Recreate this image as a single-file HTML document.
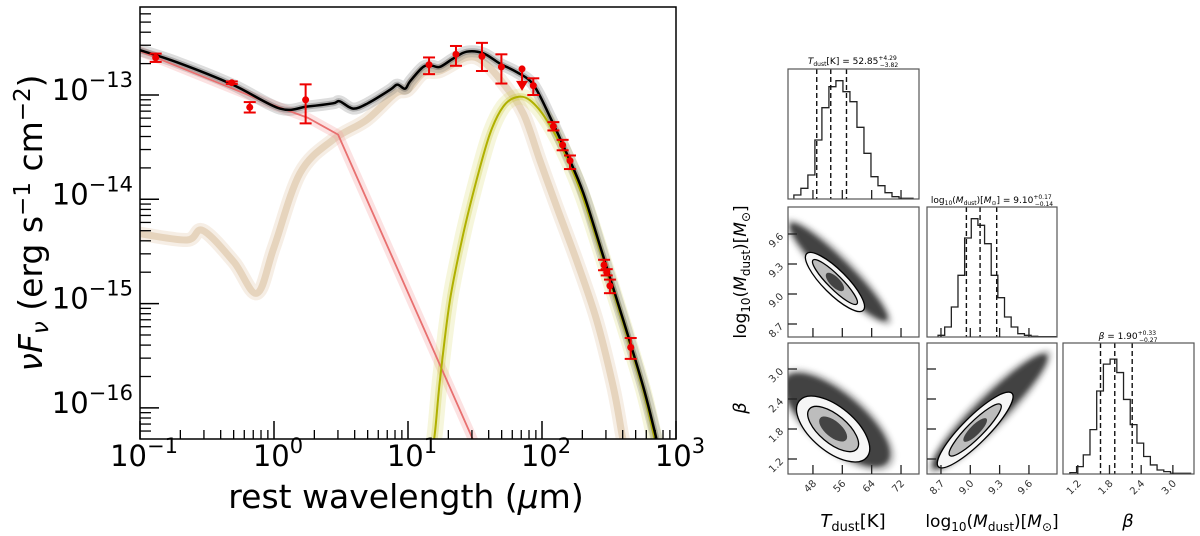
<!DOCTYPE html>
<html><head><meta charset="utf-8"><style>
html,body{margin:0;padding:0;background:#fff;}
svg{display:block;font-family:"DejaVu Sans","Liberation Sans",sans-serif;}
</style></head><body>
<svg id="fig" width="1200" height="536" viewBox="0 0 1200 536" xmlns="http://www.w3.org/2000/svg">
<defs>
<clipPath id="clipL"><rect x="140" y="7" width="536" height="432"/></clipPath>
<filter id="blur3" x="-30%" y="-30%" width="160%" height="160%"><feGaussianBlur stdDeviation="2.5"/></filter>
</defs>
<g id="sed"></g>
<g id="corner"></g>
</svg>
<script>
// ---------- SED data (log10 wavelength [um], log10 nuFnu) ----------
const totalLw = [-1.0,-0.716,-0.31,0.045,0.25,0.44,0.49,0.59,0.70,0.866,0.92,0.978,1.015,1.114,1.18,1.239,1.338,1.438,1.562,1.687,1.811,1.935,2.06,2.184,2.308,2.458,2.607,2.756,2.843,2.87];
const totalLf = [-12.57,-12.69,-12.90,-13.13,-13.11,-13.08,-13.06,-13.13,-13.08,-12.95,-12.90,-12.94,-12.87,-12.73,-12.72,-12.73,-12.65,-12.585,-12.60,-12.70,-12.78,-12.90,-13.21,-13.56,-13.94,-14.55,-15.16,-15.80,-16.24,-16.40];
const stellarLw = [-1.0,0.0,0.254,0.478,1.463,1.6];
const stellarLf = [-12.58,-13.10,-13.22,-13.38,-16.24,-16.64];
const agnLw = [-1.0,-0.65,-0.53,-0.3,-0.127,0.0,0.194,0.44,0.69,0.9,1.0,1.114,1.239,1.438,1.562,1.711,1.861,1.985,2.109,2.259,2.408,2.532,2.595,2.62];
const agnLf = [-14.33,-14.39,-14.30,-14.60,-14.90,-14.46,-13.75,-13.43,-13.24,-12.99,-12.95,-12.79,-12.77,-12.64,-12.68,-12.89,-13.18,-13.63,-14.07,-14.59,-15.16,-15.80,-16.24,-16.40];
const coldLw = [1.17,1.201,1.239,1.313,1.413,1.513,1.612,1.711,1.811,1.910,2.035,2.184,2.308,2.458,2.607,2.756,2.831,2.86];
const coldLf = [-16.5,-16.24,-15.73,-14.97,-14.33,-13.81,-13.37,-13.11,-13.02,-13.05,-13.24,-13.60,-13.99,-14.58,-15.19,-15.83,-16.24,-16.40];
const obsLw = [-0.883,-0.315,-0.181,0.236,1.157,1.358,1.552,1.697,1.935,2.085,2.154,2.209,2.463,2.483,2.507,2.662];
const obsLf = [-12.643,-12.882,-13.118,-13.046,-12.71,-12.61,-12.63,-12.73,-12.91,-13.30,-13.48,-13.63,-14.63,-14.70,-14.83,-15.42];
const obsErrLo = [0.04,0.012,0.05,0.226,0.09,0.11,0.14,0.16,0.09,0.04,0.05,0.08,0.05,0.03,0.07,0.11];
const obsErrHi = [0.04,0.012,0.05,0.148,0.07,0.08,0.13,0.12,0.07,0.04,0.05,0.05,0.05,0.03,0.06,0.09];
const limitLw = [1.851];
const limitLf = [-12.75];
const xTickExp = [-1,0,1,2,3];
const yTickExp = [-13,-14,-15,-16];

const NS = "http://www.w3.org/2000/svg";
function mk(tag, attrs, parent){const e=document.createElementNS(NS,tag);for(const k in attrs)e.setAttribute(k,attrs[k]);if(parent)parent.appendChild(e);return e;}
const sx = lw => 140 + (lw + 1) * 134;
const sy = lf => 95 - (lf + 13) * 104.3;

const sed = document.getElementById('sed');
const plotG = mk('g',{'clip-path':'url(#clipL)'},sed);

function pathD(xs, ys){
  const P=xs.map((x,i)=>[sx(x),sy(ys[i])]);
  let d='M'+P[0][0].toFixed(1)+','+P[0][1].toFixed(1);
  for(let i=0;i<P.length-1;i++){
    const p0=P[i-1]||P[i],p1=P[i],p2=P[i+1],p3=P[i+2]||P[i+1];
    const c1=[p1[0]+(p2[0]-p0[0])/6,p1[1]+(p2[1]-p0[1])/6];
    const c2=[p2[0]-(p3[0]-p1[0])/6,p2[1]-(p3[1]-p1[1])/6];
    d+=` C${c1[0].toFixed(1)},${c1[1].toFixed(1)} ${c2[0].toFixed(1)},${c2[1].toFixed(1)} ${p2[0].toFixed(1)},${p2[1].toFixed(1)}`;
  }
  return d;
}
function linD(xs, ys){return xs.map((x,i)=>(i?'L':'M')+sx(x).toFixed(1)+','+sy(ys[i]).toFixed(1)).join(' ');}
function band(d, color, w, op, name){
  const p = mk('path',{d:d,fill:'none',stroke:color,'stroke-width':w,'stroke-opacity':op,'stroke-linejoin':'round','stroke-linecap':'round'},plotG);
  
  
}
function line(d, color, w, name){
  const p = mk('path',{d:d,fill:'none',stroke:color,'stroke-width':w,'stroke-linejoin':'round'},plotG);
  
  
}
const dAgn=pathD(agnLw,agnLf), dSt=linD(stellarLw,stellarLf), dCold=pathD(coldLw,coldLf), dTot=pathD(totalLw,totalLf);
band(dAgn, '#e0c8a8', 14, 0.3, 'agn-band');
band(dAgn, '#d2b48c', 7, 0.45, 'agn-band-core');
band(dSt, '#f4a0a0', 10, 0.3, 'stellar-band');
band(dCold, '#d8d860', 16, 0.22, 'cold-dust-band');
band(dCold, '#c8c830', 7, 0.3, 'cold-dust-band-core');
band(dTot, '#777', 12, 0.25, 'total-band');
band(dTot, '#444', 6, 0.3, 'total-band-core');
line(dSt, '#e87070', 1.8, 'stellar-line');
line(dCold, '#b0b000', 2, 'cold-dust-line');
line(dTot, '#000', 2.5, 'total-line');

for(let i=0;i<obsLw.length;i++){
  const x=sx(obsLw[i]), y=sy(obsLf[i]), y1=sy(obsLf[i]+obsErrHi[i]), y2=sy(obsLf[i]-obsErrLo[i]);
  const g=mk('g',{},plotG);
  
  
  mk('line',{x1:x,x2:x,y1:y1,y2:y2,stroke:'#e00','stroke-width':2},g);
  mk('line',{x1:x-6,x2:x+6,y1:y1,y2:y1,stroke:'#e00','stroke-width':2},g);
  mk('line',{x1:x-6,x2:x+6,y1:y2,y2:y2,stroke:'#e00','stroke-width':2},g);
  mk('circle',{cx:x,cy:y,r:3.5,fill:'#e00'},g);
}
for(let i=0;i<limitLw.length;i++){
  const x=sx(limitLw[i]), y=sy(limitLf[i]);
  const g=mk('g',{},plotG);
  
  
  mk('circle',{cx:x,cy:y,r:3.5,fill:'#e00'},g);
  mk('line',{x1:x,x2:x,y1:y,y2:y+14,stroke:'#e00','stroke-width':2},g);
  mk('path',{d:`M${x-6},${y+12} L${x+6},${y+12} L${x},${y+22} Z`,fill:'#e00'},g);
}
const fr=mk('rect',{x:140,y:7,width:536,height:432,fill:'none',stroke:'#000','stroke-width':1.5},sed);


for(let d=-1; d<3; d++){
  for(let m=2;m<10;m++){
    const x=sx(d+Math.log10(m));
    mk('line',{x1:x,x2:x,y1:439,y2:430,stroke:'#000','stroke-width':1.3},sed);
  }
}
xTickExp.forEach(e=>{
  const x=sx(e);
  mk('line',{x1:x,x2:x,y1:439,y2:421,stroke:'#000','stroke-width':1.5},sed);
  const t=mk('text',{x:x+4,y:466,'text-anchor':'middle','font-size':29,fill:'#000'},sed);
  
  
  t.innerHTML=`10<tspan dy="-13" font-size="21">${e<0?'\u2212':''}${Math.abs(e)}</tspan>`;
});
for(let d=-17; d<-12; d++){
  for(let m=2;m<10;m++){
    const y=sy(d+Math.log10(m));
    if(y<8||y>438) continue;
    mk('line',{x1:140,x2:151,y1:y,y2:y,stroke:'#000','stroke-width':1.3},sed);
  }
}
yTickExp.forEach(e=>{
  const y=sy(e);
  mk('line',{x1:140,x2:159,y1:y,y2:y,stroke:'#000','stroke-width':1.5},sed);
  const t=mk('text',{x:133,y:y+5,'text-anchor':'end','font-size':29,fill:'#000'},sed);
  
  
  t.innerHTML=`10<tspan dy="-13" font-size="21">\u2212${Math.abs(e)}</tspan>`;
});
{
  const t=mk('text',{x:406,y:508,'text-anchor':'middle','font-size':33,fill:'#000'},sed);
  
  
  t.innerHTML='rest wavelength (<tspan font-style="italic">μ</tspan>m)';
  const y=mk('text',{x:0,y:0,'text-anchor':'middle','font-size':33,fill:'#000',transform:'translate(42,223) rotate(-90)'},sed);
  
  
  y.innerHTML='<tspan font-style="italic">νF</tspan><tspan font-style="italic" font-size="23" dy="6">ν</tspan><tspan dy="-6"> (erg s</tspan><tspan font-size="23" dy="-12">\u22121</tspan><tspan dy="12"> cm</tspan><tspan font-size="23" dy="-12">\u22122</tspan><tspan dy="12">)</tspan>';
}

// ---------- Corner plot data ----------
const tStart = 42.8, tWidth = 1.91;
const tCounts = [12,32,72,177,274,337,355,322,292,215,137,67,40,19,7,2,2];
const mStart = 8.67, mWidth = 0.068;
const mCounts = [5,30,90,185,297,355,335,280,185,118,60,30,10,5,2,1,1,1];
const bStart = 1.05, bWidth = 0.127;
const bCounts = [4,22,57,132,247,327,342,302,222,147,92,52,27,12,7,2,2,2];
const tQuant = [49.03,52.85,57.14];
const mQuant = [8.96,9.10,9.27];
const bQuant = [1.63,1.90,2.23];
const tTicks = [48,56,64,72];
const mTicks = [8.7,9.0,9.3,9.6];
const bTicks = [1.2,1.8,2.4,3.0];
const tmCenter = [54.0,9.12], tmCloud = [55.0,9.22];
const tbCenter = [53.5,1.80], tbCloud = [54.5,1.98];
const mbCenter = [9.05,1.78], mbCloud = [9.20,2.15];

const cols=[[788,919],[927,1057],[1063,1194]];
const rows=[[69,199],[207,337],[343,474]];
const tX = v => 788 + (v-41.2)/(76.9-41.2)*131;
const mX = v => 927 + (v-8.557)/(9.887-8.557)*130;
const bX = v => 1063 + (v-0.92)/(3.4-0.92)*131;
const mY = v => 337 - (v-8.57)/(9.87-8.57)*130;
const bY = v => 474 - (v-0.9)/(3.52-0.9)*131;

const corner=document.getElementById('corner');
let clipN=0;
function panel(c,r,name){
  const [x0,x1]=cols[c],[y0,y1]=rows[r];
  const id='cp'+(clipN++);
  const cp=mk('clipPath',{id:id},corner); mk('rect',{x:x0,y:y0,width:x1-x0,height:y1-y0},cp);
  const g=mk('g',{},corner);
  
  
  const inner=mk('g',{'clip-path':`url(#${id})`},g);
  return {g,inner,x0,x1,y0,y1};
}
function frame(p){mk('rect',{x:p.x0,y:p.y0,width:p.x1-p.x0,height:p.y1-p.y0,fill:'none',stroke:'#555','stroke-width':1.2},p.g);}
function hist(p, start, width, counts, xf, quant){
  let d=`M${xf(start)},${p.y1}`;
  counts.forEach((c,i)=>{const y=p.y1-c/390*(p.y1-p.y0);d+=` L${xf(start+i*width)},${y} L${xf(start+(i+1)*width)},${y}`;});
  d+=` L${xf(start+counts.length*width)},${p.y1}`;
  const h=mk('path',{d:d,fill:'none',stroke:'#222','stroke-width':1.3},p.inner);
  
  
  quant.forEach(q=>{const x=xf(q);mk('line',{x1:x,x2:x,y1:p.y0,y2:p.y1,stroke:'#111','stroke-width':1.4,'stroke-dasharray':'5,3'},p.inner);});
}
function blob(p,cx,cy,ang,cloud,cc,layers){
  mk('ellipse',{cx:cc[0],cy:cc[1],rx:cloud[0]+6,ry:cloud[1]+5,fill:'#777',opacity:0.35,filter:'url(#blur3)',transform:`rotate(${ang} ${cc[0]} ${cc[1]})`},p.inner);
  mk('ellipse',{cx:cc[0],cy:cc[1],rx:cloud[0],ry:cloud[1],fill:'#2a2a2a',opacity:0.85,filter:'url(#blur3)',transform:`rotate(${ang} ${cc[0]} ${cc[1]})`},p.inner);
  const fills=['#f6f6f6','#bdbdbd','#444'];
  layers.forEach((l,i)=>{
    mk('ellipse',{cx:cx,cy:cy,rx:l[0],ry:l[1],fill:fills[i],stroke:i<2?'#000':'none','stroke-width':1.3,transform:`rotate(${ang} ${cx} ${cy})`},p.inner);
  });
}
function xticks(p,ticks,xf,labels){
  ticks.forEach(v=>{const x=xf(v);mk('line',{x1:x,x2:x,y1:p.y1,y2:p.y1-9,stroke:'#222','stroke-width':1.3},p.g);
    if(labels){const t=mk('text',{x:0,y:0,'font-size':10,fill:'#333','text-anchor':'end',transform:`translate(${x+4},${p.y1+10}) rotate(-45)`},p.g);t.textContent=v.toFixed(v%1===0&&v>10?0:1);
      }});
}
function yticks(p,ticks,yf){
  ticks.forEach(v=>{const y=yf(v);mk('line',{x1:p.x0,x2:p.x0+9,y1:y,y2:y,stroke:'#222','stroke-width':1.3},p.g);
    const t=mk('text',{x:0,y:0,'font-size':10,fill:'#333','text-anchor':'end',transform:`translate(${p.x0-4},${y+3}) rotate(-45)`},p.g);t.textContent=v.toFixed(1);
    });
}
let p=panel(0,0,'tdust-histogram'); hist(p,tStart,tWidth,tCounts,tX,tQuant); frame(p); xticks(p,tTicks,tX,false);
p=panel(1,1,'mdust-histogram'); hist(p,mStart,mWidth,mCounts,mX,mQuant); frame(p); xticks(p,mTicks,mX,false);
p=panel(2,2,'beta-histogram'); hist(p,bStart,bWidth,bCounts,bX,bQuant); frame(p); xticks(p,bTicks,bX,true);
p=panel(0,1,'tdust-mdust-contour');
blob(p,tX(tmCenter[0]),mY(tmCenter[1]),45,[68,12],[tX(tmCloud[0]),mY(tmCloud[1])],[[40,12],[31,7],[12,5]]);
frame(p); xticks(p,tTicks,tX,false); yticks(p,mTicks,mY);
p=panel(0,2,'tdust-beta-contour');
blob(p,tX(tbCenter[0]),bY(tbCenter[1]),40,[66,26],[tX(tbCloud[0]),bY(tbCloud[1])],[[44,22],[31,14],[17,8]]);
frame(p); xticks(p,tTicks,tX,true); yticks(p,bTicks,bY);
p=panel(1,2,'mdust-beta-contour');
blob(p,mX(mbCenter[0]),bY(mbCenter[1]),-45,[80,14],[mX(mbCloud[0]),bY(mbCloud[1])],[[52,13],[36,8],[16,5]]);
frame(p); xticks(p,mTicks,mX,true);
bTicks.forEach(v=>{const y=bY(v);mk('line',{x1:927,x2:936,y1:y,y2:y,stroke:'#222','stroke-width':1.3},corner);});

function txt(x,y,size,html,name,anchor,tr){
  const t=mk('text',{x:x,y:y,'font-size':size,fill:'#000','text-anchor':anchor||'middle'},corner);
  if(tr)t.setAttribute('transform',tr);
  t.innerHTML=html;
  
  
}
txt(853,64,9,'<tspan font-style="italic">T</tspan><tspan font-size="6" dy="2">dust</tspan><tspan dy="-2">[K] = 52.85</tspan><tspan font-size="6" dy="-4">+4.29</tspan><tspan font-size="6" dx="-17" dy="7">\u22123.82</tspan>','tdust-title');
txt(992,203,9,'log<tspan font-size="6" dy="2">10</tspan><tspan dy="-2">(</tspan><tspan font-style="italic">M</tspan><tspan font-size="6" dy="2">dust</tspan><tspan dy="-2">)[</tspan><tspan font-style="italic">M</tspan><tspan font-size="6" dy="2">⊙</tspan><tspan dy="-2">] = 9.10</tspan><tspan font-size="6" dy="-4">+0.17</tspan><tspan font-size="6" dx="-17" dy="7">\u22120.14</tspan>','mdust-title');
txt(1128,339,9,'<tspan font-style="italic">β</tspan> = 1.90<tspan font-size="6" dy="-4">+0.33</tspan><tspan font-size="6" dx="-17" dy="7">\u22120.27</tspan>','beta-title');
txt(853,527,18,'<tspan font-style="italic">T</tspan><tspan font-size="13" dy="4">dust</tspan><tspan dy="-4">[K]</tspan>','tdust-axis-title');
txt(992,527,17,'log<tspan font-size="12" dy="4">10</tspan><tspan dy="-4">(</tspan><tspan font-style="italic">M</tspan><tspan font-size="12" dy="4">dust</tspan><tspan dy="-4">)[</tspan><tspan font-style="italic">M</tspan><tspan font-size="12" dy="4">⊙</tspan><tspan dy="-4">]</tspan>','mdust-axis-title');
txt(1128,527,18,'<tspan font-style="italic">β</tspan>','beta-axis-title');
txt(0,0,17,'log<tspan font-size="12" dy="4">10</tspan><tspan dy="-4">(</tspan><tspan font-style="italic">M</tspan><tspan font-size="12" dy="4">dust</tspan><tspan dy="-4">)[</tspan><tspan font-style="italic">M</tspan><tspan font-size="12" dy="4">⊙</tspan><tspan dy="-4">]</tspan>','mdust-y-axis-title','middle','translate(746,272) rotate(-90)');
txt(0,0,18,'<tspan font-style="italic">β</tspan>','beta-y-axis-title','middle','translate(746,408) rotate(-90)');
</script>
</body></html>
